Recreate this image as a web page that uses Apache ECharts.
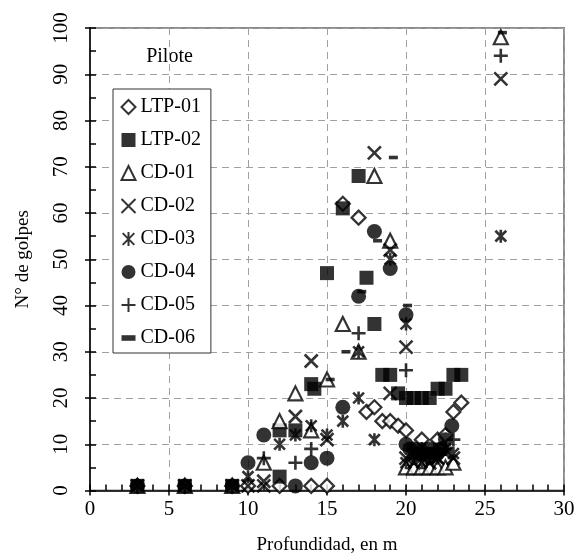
<!DOCTYPE html>
<html>
<head>
<meta charset="utf-8">
<script src="https://cdn.jsdelivr.net/npm/echarts@6/dist/echarts.min.js"></script>
<style>
html, body { margin: 0; padding: 0; background: #fff; }
#chart { width: 576px; height: 554px; }
</style>
</head>
<body>
<div id="chart"></div>
<script>
// puntos [profundidad m, N golpes]
var seriesNames = ['LTP-01', 'LTP-02', 'CD-01', 'CD-02', 'CD-03', 'CD-04', 'CD-05', 'CD-06'];

var ltp01 = [[3,1],[6,1],[9,1],[10,1],[12,1],[14,1],[15,1],[16,62],[17,59],[17.5,17],[18,18],[18.5,15],[19,15],[19.5,14],[20,13],[21,11],[22,11],[22.5,12],[23,17],[23.5,19]];
var ltp02 = [[3,1],[6,1],[9,1],[12,3],[12,13],[13,13],[14,23],[14.2,22],[15,47],[16,61],[17,68],[17.5,46],[18,36],[18.5,25],[19,25],[19.5,21],[20,20],[20.5,20],[21,20],[21.5,20],[22,22],[22.5,22],[23,25],[23.5,25]];
var cd01 = [[3,1],[6,1],[9,1],[11,6],[12,15],[13,21],[14,13],[15,24],[16,36],[17,30],[18,68],[19,54],[20,5],[20.5,5],[21,5],[21.5,5],[22,5],[22.5,5],[23,6],[26,98]];
var cd02 = [[3,1],[6,1],[9,1],[10,1],[11,1],[11,2],[13,16],[14,28],[15,11],[18,73],[19,21],[19,52],[20,31],[20,7],[20.5,6],[21,7],[21.5,6],[22,7],[22.5,8],[23,7],[26,89]];
var cd03 = [[3,1],[6,1],[9,1],[10,3],[12,10],[13,12],[14,14],[15,12],[16,15],[17,20],[17,30],[18,11],[19,50],[20,36],[20,6],[20.5,8],[21,6],[21.5,8],[22,7],[22.5,9],[23,8],[26,55]];
var cd04 = [[3,1],[6,1],[9,1],[10,6],[11,12],[13,1],[14,6],[15,7],[16,18],[17,42],[18,56],[19,48],[20,38],[20,10],[20.25,9],[20.5,9],[20.75,8],[21,8],[21.25,8],[21.5,9],[21.75,8],[22,8],[22.25,9],[22.5,11],[22.9,14]];
var cd05 = [[11,7],[13,6],[14,9],[17,34],[20,26],[20.5,7],[21,9],[21.5,7],[22,8],[22.5,9],[23,11],[26,94]];
var cd06 = [[15.2,24],[16.2,30],[17.2,43],[18.2,54],[19.2,72],[20.1,40],[20.5,7],[21,10],[21.5,6],[22,10],[26.1,99]];

var font = 'Liberation Serif';
var hollow = { color: '#fff', borderColor: '#000', borderWidth: 2.2 };
var stroked = { color: 'none', borderColor: '#000', borderWidth: 2.6 };
var filled = { color: '#000' };

var crossPath = 'path://M0,0L10,10M10,0L0,10';
var starPath = 'path://M0,0L10,10M10,0L0,10M5,-1L5,11';
var plusPath = 'path://M5,0L5,10M0,5L10,5';
var dashPath = 'path://M0,0L10,0L10,4L0,4Z';

function sc(name, data, symbol, size, style) {
    return {
        name: name,
        type: 'scatter',
        data: data,
        symbol: symbol,
        symbolSize: size,
        symbolKeepAspect: true,
        itemStyle: style,
        emphasis: { disabled: true }
    };
}

var tickStyle = { color: '#000', width: 1.5 };

var chart = echarts.init(document.getElementById('chart'));
chart.setOption({
    animation: false,
    grid: {
        left: 90, right: 12, top: 28, bottom: 63.5,
        containLabel: false, outerBoundsMode: 'none',
        show: true, borderColor: '#8c8c8c', borderWidth: 2
    },
    legend: {
        data: seriesNames,
        orient: 'vertical',
        left: 113,
        top: 89,
        padding: [8, 10, 5, 6],
        itemGap: 13,
        itemWidth: 14,
        itemHeight: 14,
        backgroundColor: '#fff',
        borderColor: '#333',
        borderWidth: 1,
        textStyle: { fontFamily: font, fontSize: 20, color: '#000', lineHeight: 20 }
    },
    graphic: [{
        type: 'text',
        style: { text: 'Pilote', x: 169.5, y: 57, align: 'center', verticalAlign: 'middle', fontFamily: font, fontSize: 20, fill: '#000' }
    }],
    xAxis: [{
        type: 'value', min: 0, max: 30, interval: 5,
        name: 'Profundidad, en m', nameLocation: 'middle', nameGap: 45,
        nameTextStyle: { fontFamily: font, fontSize: 19, color: '#000' },
        axisLine: { onZero: false, lineStyle: tickStyle },
        axisTick: { inside: true, length: 6, lineStyle: tickStyle },
        minorTick: { show: true, splitNumber: 5, length: 6, lineStyle: tickStyle },
        splitLine: { show: true, lineStyle: { color: '#a0a0a0', width: 1, type: [7, 5] } },
        axisLabel: { margin: 8, fontFamily: font, fontSize: 21, color: '#000' }
    }, {
        type: 'value', min: 0, max: 30, interval: 5, position: 'bottom',
        axisLine: { show: false },
        axisTick: { show: true, length: 5, lineStyle: tickStyle },
        axisLabel: { show: false },
        splitLine: { show: false }
    }],
    yAxis: [{
        type: 'value', min: 0, max: 100, interval: 10,
        name: 'N° de golpes', nameLocation: 'middle', nameGap: 57,
        nameTextStyle: { fontFamily: font, fontSize: 19, color: '#000' },
        axisLine: { onZero: false, lineStyle: tickStyle },
        axisTick: { inside: true, length: 6, lineStyle: tickStyle },
        minorTick: { show: true, splitNumber: 2, length: 6, lineStyle: tickStyle },
        splitLine: { show: true, lineStyle: { color: '#a0a0a0', width: 1, type: [7, 5] } },
        axisLabel: { rotate: 90, margin: 18, fontFamily: font, fontSize: 21, color: '#000' }
    }, {
        type: 'value', min: 0, max: 100, interval: 10, position: 'left',
        axisLine: { show: false },
        axisTick: { show: true, length: 5, lineStyle: tickStyle },
        axisLabel: { show: false },
        splitLine: { show: false }
    }],
    series: [
        sc('LTP-01', ltp01, 'diamond', 14, hollow),
        sc('LTP-02', ltp02, 'rect', 14, filled),
        sc('CD-01', cd01, 'triangle', 14, hollow),
        sc('CD-02', cd02, crossPath, 13, stroked),
        sc('CD-03', cd03, starPath, 13, stroked),
        sc('CD-04', cd04, 'circle', 15, filled),
        sc('CD-05', cd05, plusPath, 14, stroked),
        sc('CD-06', cd06, dashPath, 9, filled)
    ]
});
</script>
</body>
</html>
